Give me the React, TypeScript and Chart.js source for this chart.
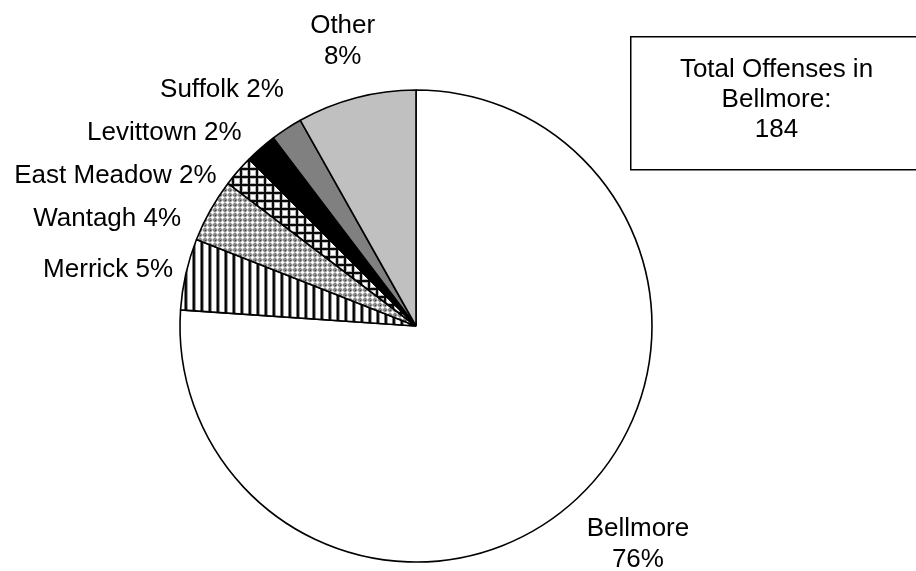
import React, { useEffect, useRef } from 'react';
import { Chart, registerables } from 'chart.js';

Chart.register(...registerables);

// Offenses by community, in clockwise order from 12 o'clock
const categories = ['Bellmore', 'Merrick', 'Wantagh', 'East Meadow', 'Levittown', 'Suffolk', 'Other'];
const offenseCounts = [140, 9, 8, 4, 4, 4, 15];
const totalBoxLines = ['Total Offenses in', 'Bellmore:'];

const FONT_FAMILY = '"Liberation Sans", Arial, Helvetica, sans-serif';
const FONT_SIZE = 26;
const CAP_HEIGHT = FONT_SIZE * 0.716;
const LINE_HEIGHT = 31;
const LABEL_GAP = 14; // distance of the label anchor outside the rim
const LABEL_ROW = 43; // minimum vertical pitch of stacked side labels
// small horizontal tweaks of the label positions, per slice
const labelShiftX = [-2, 1, -17, -11, -10, 5, -10];

type Paint = (x: number, y: number) => string;

function makePattern(ctx: CanvasRenderingContext2D, size: number, paint: Paint) {
  const tile = document.createElement('canvas');
  tile.width = size;
  tile.height = size;
  const g = tile.getContext('2d') as CanvasRenderingContext2D;
  for (let y = 0; y < size; y++) {
    for (let x = 0; x < size; x++) {
      g.fillStyle = paint(x, y);
      g.fillRect(x, y, 1, 1);
    }
  }
  return ctx.createPattern(tile, 'repeat') as CanvasPattern;
}

// vertical hatching
const stripes: Paint = (x) =>
  x === 0 ? '#7a7a7a' : x === 1 ? '#000000' : x === 2 ? '#1a1a1a' : x === 3 ? '#9a9a9a' : '#ffffff';

// dotted diamond texture
const K = '#3a3a3a';
const M = '#8a8a8a';
const L = '#c8c8c8';
const W = '#ffffff';
const diamondRows = [
  [K, M, L, M, M],
  [M, L, W, L, M],
  [L, W, W, W, L],
  [M, L, W, L, M],
  [M, M, L, M, M],
];
const diamonds: Paint = (x, y) => diamondRows[y][x];

// square grid
const grid: Paint = (x, y) => {
  if (x <= 1 || y <= 1) return '#0a0a0a';
  if (x === 2 || y === 2 || x === 7 || y === 7) return '#b4b4b4';
  return '#ffffff';
};

type SideLabel = { x: number; y: number; text: string };

// Spread a vertically sorted stack so neighbours keep a minimum pitch,
// moving overlapping groups around their mean position.
function spreadStack(items: SideLabel[], pitch: number) {
  items.sort((a, b) => a.y - b.y);
  let groups = items.map((it) => ({ members: [it], mean: it.y }));
  let changed = true;
  while (changed) {
    changed = false;
    for (let i = 0; i < groups.length - 1; i++) {
      const a = groups[i];
      const b = groups[i + 1];
      const aLast = a.mean + ((a.members.length - 1) * pitch) / 2;
      const bFirst = b.mean - ((b.members.length - 1) * pitch) / 2;
      if (bFirst - aLast < pitch) {
        const members = [...a.members, ...b.members];
        const mean = members.reduce((s, m) => s + m.y, 0) / members.length;
        groups.splice(i, 2, { members, mean });
        changed = true;
        break;
      }
    }
  }
  const out: SideLabel[] = [];
  groups.forEach((g) => {
    const n = g.members.length;
    g.members.forEach((m, k) => out.push({ ...m, y: g.mean + (k - (n - 1) / 2) * pitch }));
  });
  return out;
}

const sliceLabels = {
  id: 'sliceLabels',
  afterDatasetsDraw(chart: Chart) {
    const { ctx } = chart;
    const arcs = chart.getDatasetMeta(0).data as any[];
    const total = offenseCounts.reduce((s, v) => s + v, 0);
    ctx.save();
    ctx.font = `${FONT_SIZE}px ${FONT_FAMILY}`;
    ctx.fillStyle = '#000000';
    ctx.textBaseline = 'alphabetic';

    const side: SideLabel[] = [];
    arcs.forEach((arc, i) => {
      const p = arc.getProps(['x', 'y', 'startAngle', 'endAngle', 'outerRadius'], true);
      const mid = (p.startAngle + p.endAngle) / 2;
      const ux = Math.cos(mid);
      const uy = Math.sin(mid);
      const r = p.outerRadius + LABEL_GAP;
      const ax = p.x + r * ux;
      const ay = p.y + r * uy;
      const pct = `${Math.round((offenseCounts[i] / total) * 100)}%`;

      if (ux < -0.5) {
        side.push({ x: ax + labelShiftX[i], y: ay - 3, text: `${categories[i]} ${pct}` });
        return;
      }
      const lines = [categories[i], pct];
      const widest = Math.max(...lines.map((l) => ctx.measureText(l).width));
      ctx.textAlign = 'center';
      if (uy < 0) {
        const last = ay - 20;
        lines.forEach((l, k) => {
          ctx.fillText(l, ax + labelShiftX[i], last - (lines.length - 1 - k) * LINE_HEIGHT);
        });
      } else {
        const first = ay + CAP_HEIGHT + 9;
        const cx = ax + 2 + labelShiftX[i] + widest / 2;
        lines.forEach((l, k) => ctx.fillText(l, cx, first + k * LINE_HEIGHT));
      }
    });

    ctx.textAlign = 'right';
    spreadStack(side, LABEL_ROW).forEach((s) => {
      ctx.fillText(s.text, s.x, s.y + CAP_HEIGHT / 2);
    });
    ctx.restore();
  },
  afterDraw(chart: Chart) {
    const { ctx } = chart;
    const total = offenseCounts.reduce((s, v) => s + v, 0);
    ctx.save();
    ctx.fillStyle = '#ffffff';
    ctx.fillRect(630.75, 36.75, 300, 133);
    ctx.strokeStyle = '#000000';
    ctx.lineWidth = 1.5;
    ctx.strokeRect(630.75, 36.75, 300, 133);
    ctx.fillStyle = '#000000';
    ctx.font = `${FONT_SIZE}px ${FONT_FAMILY}`;
    ctx.textAlign = 'center';
    ctx.textBaseline = 'alphabetic';
    [...totalBoxLines, String(total)].forEach((l, k) => ctx.fillText(l, 776.5, 76.5 + k * 30));
    ctx.restore();
  },
};

export default function App() {
  const canvasRef = useRef<HTMLCanvasElement | null>(null);

  useEffect(() => {
    const canvas = canvasRef.current;
    if (!canvas) return;
    const ctx = canvas.getContext('2d') as CanvasRenderingContext2D;
    const fills = [
      '#ffffff',
      makePattern(ctx, 8, stripes),
      makePattern(ctx, 5, diamonds),
      makePattern(ctx, 8, grid),
      '#000000',
      '#808080',
      '#c0c0c0',
    ];

    const chart = new Chart(canvas, {
      type: 'pie',
      data: {
        labels: categories,
        datasets: [
          {
            data: offenseCounts,
            backgroundColor: fills as any,
            borderColor: '#000000',
            borderWidth: 1.6,
          },
        ],
      },
      options: {
        responsive: false,
        animation: false,
        devicePixelRatio: 1,
        events: [],
        radius: 236,
        layout: { padding: { left: 180, right: 264, top: 90, bottom: 9 } },
        plugins: {
          legend: { display: false },
          tooltip: { enabled: false },
          title: { display: false },
        },
      } as any,
      plugins: [sliceLabels],
    });

    return () => chart.destroy();
  }, []);

  return (
    <div style={{ position: 'fixed', left: 0, top: 0, width: 916, height: 571, background: '#ffffff' }}>
      <canvas ref={canvasRef} width={916} height={571} style={{ display: 'block' }} />
    </div>
  );
}
